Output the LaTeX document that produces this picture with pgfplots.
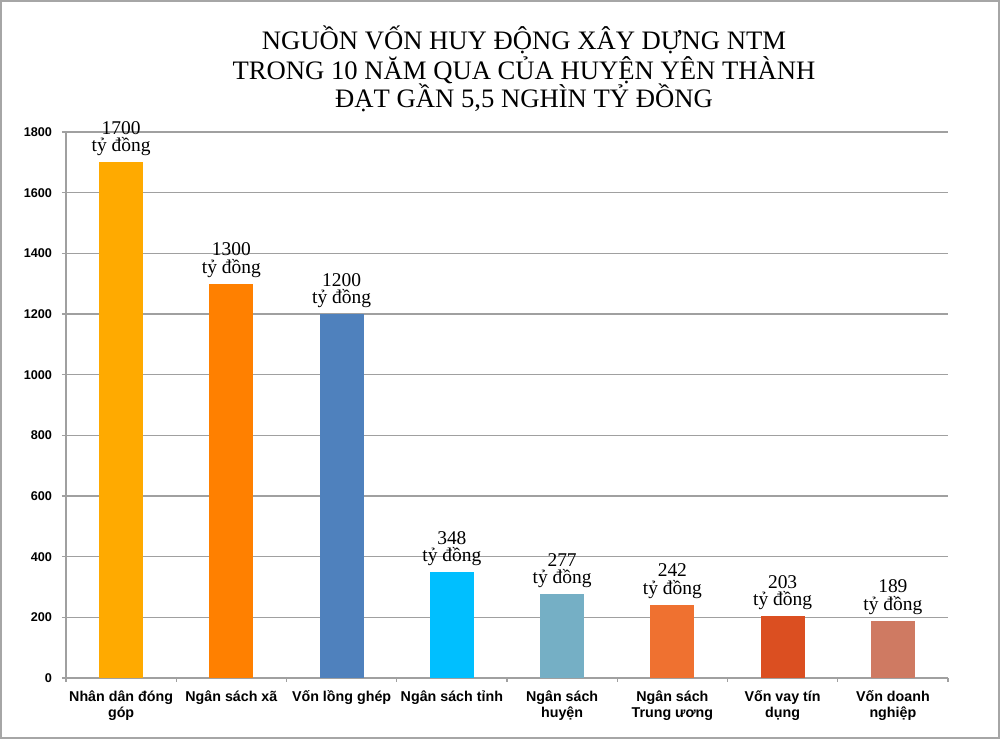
\documentclass[border=0pt]{standalone}
\usepackage{fontspec}
\setmainfont{Liberation Serif}
\setsansfont{Liberation Sans}
\usepackage{pgfplots}
\pgfplotsset{compat=1.18}
\definecolor{c1}{HTML}{FFAA00}
\definecolor{c2}{HTML}{FF8000}
\definecolor{c3}{HTML}{4F81BD}
\definecolor{c4}{HTML}{00BFFF}
\definecolor{c5}{HTML}{75AFC5}
\definecolor{c6}{HTML}{EF7130}
\definecolor{c7}{HTML}{DB4F21}
\definecolor{c8}{HTML}{CF7A62}
\definecolor{gridc}{HTML}{A0A0A0}
\begin{document}
\begin{tikzpicture}[x=1pt,y=1pt]
\draw[gray!70, line width=1.5pt, fill=white] (0.75,0.75) rectangle (749.25,553.5);
\node[font=\fontsize{20pt}{22pt}\selectfont] at (393,524.25) {NGUỒN VỐN HUY ĐỘNG XÂY DỰNG NTM};
\node[font=\fontsize{20pt}{22pt}\selectfont] at (393,501.75) {TRONG 10 NĂM QUA CỦA HUYỆN YÊN THÀNH};
\node[font=\fontsize{20pt}{22pt}\selectfont] at (393,480.75) {ĐẠT GẦN 5,5 NGHÌN TỶ ĐỒNG};
\begin{axis}[
 at={(49.5pt,45.75pt)}, anchor=south west,
 scale only axis, width=661.5pt, height=409.5pt,
 xmin=-0.5, xmax=7.5, ymin=0, ymax=1800,
 clip=false,
 axis lines*=left,
 axis line style={gridc, line width=0.9pt},
 tick align=outside,
 major tick length=3pt,
 tick style={gridc, line width=0.9pt},
 ytick={0,200,...,1800},
 ymajorgrids, major grid style={gridc, line width=0.9pt},
 xtick={-0.5,0.5,...,7.5},
 xticklabels={},
 extra x ticks={0,1,2,3,4,5,6,7},
 extra x tick labels={{Nhân dân đóng\\góp},{Ngân sách xã},{Vốn lồng ghép},{Ngân sách tỉnh},{Ngân sách\\huyện},{Ngân sách\\Trung ương},{Vốn vay tín\\dụng},{Vốn doanh\\nghiệp}},
 extra x tick style={major tick length=0pt, xmajorgrids=false},
 x tick label style={font=\sffamily\bfseries\fontsize{10.7pt}{12pt}\selectfont, align=center, anchor=north, yshift=-6pt},
 y tick label style={font=\sffamily\bfseries\fontsize{9.5pt}{11pt}\selectfont, xshift=-4pt},
 /pgf/number format/assume math mode=true,
 /pgf/number format/1000 sep={},
 nodes near coords={\pgfmathprintnumber[1000 sep={}]{\pgfplotspointmeta}\\tỷ đồng},
 every node near coord/.append style={align=center, font=\fontsize{14.6pt}{13pt}\selectfont, anchor=south, inner sep=1pt, yshift=3.5pt, text=black},
]
\addplot[ybar, bar width=33pt, fill=c1, draw=none] coordinates {(0,1700)};
\addplot[ybar, bar width=33pt, fill=c2, draw=none] coordinates {(1,1300)};
\addplot[ybar, bar width=33pt, fill=c3, draw=none] coordinates {(2,1200)};
\addplot[ybar, bar width=33pt, fill=c4, draw=none] coordinates {(3,348)};
\addplot[ybar, bar width=33pt, fill=c5, draw=none] coordinates {(4,277)};
\addplot[ybar, bar width=33pt, fill=c6, draw=none] coordinates {(5,242)};
\addplot[ybar, bar width=33pt, fill=c7, draw=none] coordinates {(6,203)};
\addplot[ybar, bar width=33pt, fill=c8, draw=none] coordinates {(7,189)};
\end{axis}
\end{tikzpicture}
\end{document}
